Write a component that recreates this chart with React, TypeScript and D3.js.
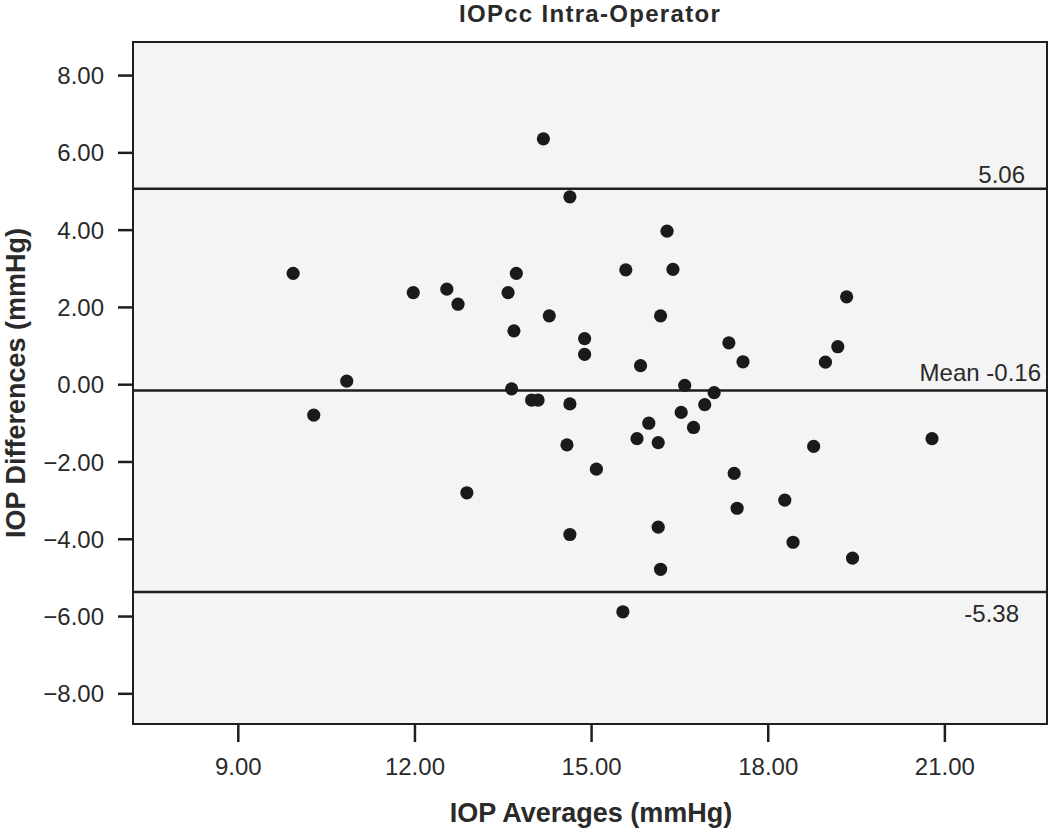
import React from "react";
import * as d3 from "d3";

// IOP averages (x) and differences (y)
const iopAverages = [14.19, 14.64, 9.94, 11.98, 12.55, 12.74, 13.73, 13.59, 14.29, 13.69,
  14.89, 14.89, 15.59, 15.84, 10.85, 10.29, 13.65, 13.99, 14.10, 14.64,
  15.98, 15.78, 14.59, 15.09, 12.89, 14.64, 15.54, 16.29, 16.39, 19.34,
  16.18, 17.34, 17.58, 19.19, 18.98, 16.59, 17.09, 16.93, 16.53, 16.74,
  16.14, 20.79, 18.78, 17.43, 18.29, 17.48, 16.14, 18.43, 19.44, 16.18];
const iopDifferences = [6.35, 4.85, 2.87, 2.37, 2.46, 2.07, 2.87, 2.37, 1.77, 1.38,
  1.18, 0.77, 2.96, 0.48, 0.08, -0.80, -0.12, -0.41, -0.41, -0.51,
  -1.01, -1.41, -1.57, -2.20, -2.81, -3.89, -5.89, 3.96, 2.97, 2.26,
  1.77, 1.07, 0.58, 0.97, 0.57, -0.03, -0.22, -0.53, -0.73, -1.12,
  -1.51, -1.41, -1.61, -2.31, -3.00, -3.21, -3.70, -4.09, -4.50, -4.79];

const refValues = [5.06, -0.16, -5.38];
const refLabels = ["5.06", "Mean -0.16", "-5.38"];
const xTicks = [9, 12, 15, 18, 21];
const yTicks = [8, 6, 4, 2, 0, -2, -4, -6, -8];

export default function App() {
  const svgRef = React.useRef(null);
  const width = 1050;
  const height = 828;
  const margin = { left: 133, right: 3, top: 42, bottom: 104 };

  React.useEffect(() => {
    const font = "'Liberation Sans', Arial, sans-serif";
    const ink = "#1e1e1e";
    const x = d3.scaleLinear().domain([7.22, 22.743]).range([margin.left, width - margin.right]);
    const y = d3.scaleLinear().domain([-8.794, 8.856]).range([height - margin.bottom, margin.top]);

    const svg = d3.select(svgRef.current);
    svg.selectAll("*").remove();

    svg.append("rect").attr("width", width).attr("height", height).attr("fill", "#fff");

    // plot background
    svg.append("rect")
      .attr("x", margin.left).attr("y", margin.top)
      .attr("width", width - margin.left - margin.right)
      .attr("height", height - margin.top - margin.bottom)
      .attr("fill", "#f4f4f4");

    // y axis ticks
    const yAxis = d3.axisLeft(y).tickValues(yTicks).tickSize(15).tickPadding(14)
      .tickFormat(d3.format(".2f"));
    const yg = svg.append("g").attr("transform", `translate(${margin.left},0)`).call(yAxis);
    yg.select(".domain").remove();
    yg.selectAll("line").attr("stroke", ink).attr("stroke-width", 2.5);
    yg.selectAll("text").attr("font-family", font).attr("font-size", 24).attr("fill", "#2a2a2a")
      .attr("dy", "0.36em");

    // x axis ticks
    const xAxis = d3.axisBottom(x).tickValues(xTicks).tickSize(18).tickPadding(16)
      .tickFormat(d3.format(".2f"));
    const xg = svg.append("g").attr("transform", `translate(0,${height - margin.bottom})`).call(xAxis);
    xg.select(".domain").remove();
    xg.selectAll("line").attr("stroke", ink).attr("stroke-width", 2.5);
    xg.selectAll("text").attr("font-family", font).attr("font-size", 24).attr("fill", "#2a2a2a");

    // reference lines
    svg.selectAll(".ref").data(refValues).enter().append("line")
      .attr("x1", margin.left).attr("x2", width - margin.right)
      .attr("y1", d => y(d)).attr("y2", d => y(d))
      .attr("stroke", ink).attr("stroke-width", 2.5);

    const labelDx = [1025, 1041, 1019];
    const labelDy = [-6, -9, 30];
    svg.selectAll(".refLabel").data(refValues).enter().append("text")
      .attr("x", (d, i) => labelDx[i])
      .attr("y", (d, i) => y(d) + labelDy[i])
      .attr("text-anchor", "end")
      .attr("font-family", font).attr("font-size", 24).attr("fill", "#2a2a2a")
      .text((d, i) => refLabels[i]);

    // points
    svg.selectAll(".pt").data(iopAverages).enter().append("circle")
      .attr("cx", d => x(d))
      .attr("cy", (d, i) => y(iopDifferences[i]))
      .attr("r", 6.6)
      .attr("fill", "#1a1a1a");

    // frame
    svg.append("rect")
      .attr("x", margin.left).attr("y", margin.top)
      .attr("width", width - margin.left - margin.right)
      .attr("height", height - margin.top - margin.bottom)
      .attr("fill", "none").attr("stroke", ink).attr("stroke-width", 2);

    // titles
    svg.append("text").text("IOPcc Intra-Operator")
      .attr("x", 590).attr("y", 22).attr("text-anchor", "middle")
      .attr("font-family", font).attr("font-weight", "bold").attr("font-size", 24)
      .attr("letter-spacing", 1.3).attr("fill", "#2a2a2a");

    svg.append("text").text("IOP Averages (mmHg)")
      .attr("x", 591).attr("y", 822).attr("text-anchor", "middle")
      .attr("font-family", font).attr("font-weight", "bold").attr("font-size", 27)
      .attr("fill", "#2a2a2a");

    svg.append("text").text("IOP Differences (mmHg)")
      .attr("transform", `translate(25,${(margin.top + height - margin.bottom) / 2}) rotate(-90)`)
      .attr("text-anchor", "middle")
      .attr("font-family", font).attr("font-weight", "bold").attr("font-size", 27)
      .attr("fill", "#2a2a2a");
  }, []);

  return (
    <svg ref={svgRef} width={width} height={height}
      style={{ position: "absolute", left: 0, top: 0 }} />
  );
}
